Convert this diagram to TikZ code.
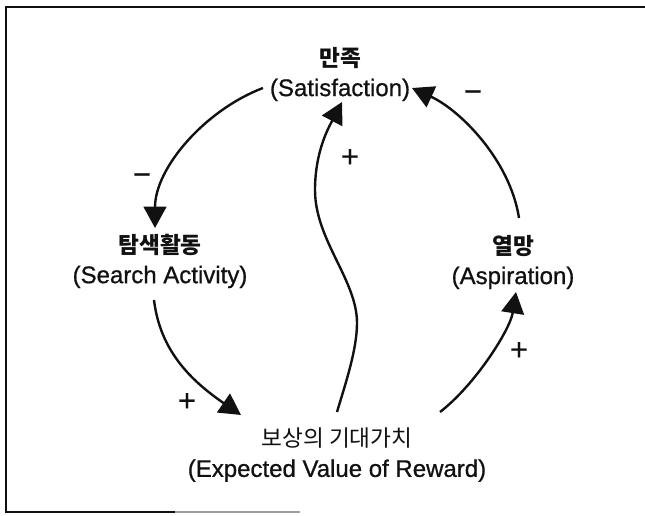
\documentclass[tikz,border=0pt]{standalone}
\usepackage{fontspec}
\setmainfont[FakeBold=0.8]{Liberation Sans}
\newfontfamily\krfont{Noto Sans CJK KR}
\usepackage{tikz}
\usetikzlibrary{arrows.meta}
\definecolor{ink}{HTML}{111111}
\definecolor{fadegray}{HTML}{A0A0A0}
\newcommand{\kr}[1]{{\krfont\fontsize{17}{22.5}\selectfont #1}}
\tikzset{
  varnode/.style={align=center,inner sep=0pt,text=ink,
                  font=\fontsize{18}{22.5}\selectfont},
  linkarr/.style={-{Triangle[length=16pt,width=17pt]},line width=1.8pt,draw=ink},
  polarity/.style={inner sep=0pt,text=ink,font=\fontsize{23}{23}\selectfont},
  frameline/.style={line width=1.5pt,draw=ink}
}
\begin{document}
\begin{tikzpicture}[x=0.75pt,y=0.75pt]
  \useasboundingbox (0,0) rectangle (645,515);
  % frame
  \draw[frameline] (645,508) -- (6,508) -- (6,3) -- (175,3);
  \draw[frameline,draw=fadegray] (175,3) -- (300,3);
  % variables
  \node[varnode] (sat) at (340,441) {\kr{\bfseries 만족}\\(Satisfaction)};
  \node[varnode] (search) at (160,254) {\kr{\bfseries 탐색활동}\\(Search Activity)};
  \node[varnode] (asp) at (513,253) {\kr{\bfseries 열망}\\(Aspiration)};
  \node[varnode] (reward) at (337,60) {\kr{보상의 기대가치}\\(Expected Value of Reward)};
  % links
  \draw[linkarr] ([shift={(-77,-14)}]sat.center)
    .. controls (205,405) and (155,347) .. ([shift={(-5,33)}]search.center);
  \draw[linkarr] ([shift={(-6,-39)}]search.center)
    .. controls (160,165) and (190,135) .. ([shift={(-96,40)}]reward.center);
  \draw[linkarr] ([shift={(103,43)}]reward.center)
    .. controls (475,130) and (510,185) .. ([shift={(3,-30)}]asp.center);
  \draw[linkarr] ([shift={(6,44)}]asp.center)
    .. controls (510,355) and (460,405) .. ([shift={(72,-14)}]sat.center);
  \draw[linkarr] ([shift={(0,43)}]reward.center)
    .. controls (345,130) and (357,165) .. (357,192)
    .. controls (357,235) and (315,275) .. (315,325)
    .. controls (315,365) and (330,390) .. ([shift={(2,-28)}]sat.center);
  % polarities
  \node[polarity] (sgnSS) at (142,336) {−};
  \node[polarity] (sgnAS) at (473,419) {−};
  \node[polarity] (sgnRS) at (350,357) {+};
  \node[polarity] (sgnSR) at (187,113) {+};
  \node[polarity] (sgnRA) at (519,164) {+};
\end{tikzpicture}
\end{document}
